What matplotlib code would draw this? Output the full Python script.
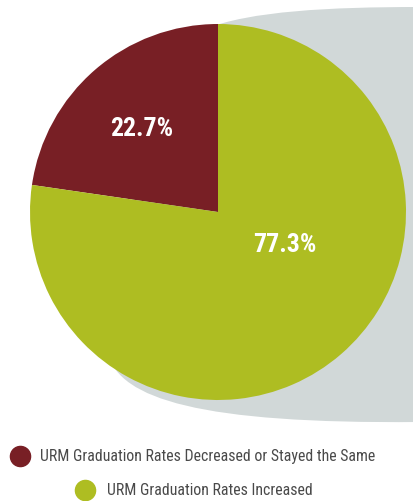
import matplotlib.pyplot as plt
from matplotlib.path import Path
from matplotlib.patches import PathPatch

# data
categories = ['URM Graduation Rates Decreased or Stayed the Same',
              'URM Graduation Rates Increased']
shares = [22.7, 77.3]
colors = ['#781F25', '#AEBD22']
shadow_color = '#D1D8D8'
text_color = '#4A4A4A'

W, H = 414, 502
fig = plt.figure(figsize=(W / 100, H / 100), dpi=100)
ax = fig.add_axes([0, 0, 1, 1])


def py(y):
    # pixel row (from top) -> data y
    return H - y


# grey backdrop shape behind the pie
verts = [(W + 5, py(8)),
         (330, py(8)), (250, py(12)), (205, py(30)),
         (150, py(120)), (100, py(280)), (108, py(355)),
         (120, py(400)), (200, py(425)), (W + 5, py(423)),
         (W + 5, py(8))]
codes = [Path.MOVETO,
         Path.CURVE4, Path.CURVE4, Path.CURVE4,
         Path.CURVE4, Path.CURVE4, Path.CURVE4,
         Path.CURVE4, Path.CURVE4, Path.CURVE4,
         Path.CLOSEPOLY]
ax.add_patch(PathPatch(Path(verts, codes), facecolor=shadow_color,
                       edgecolor='none', zorder=0))

cx, cy, r = 218, py(213), 188
wedges, _ = ax.pie(shares, colors=colors, startangle=90, counterclock=True,
                   center=(cx, cy), radius=r, frame=True,
                   wedgeprops=dict(linewidth=0))
ax.set_xlim(0, W)
ax.set_ylim(0, H)
ax.set_aspect('equal')
ax.axis('off')

label_font = ['Roboto Condensed', 'Barlow Condensed', 'DejaVu Sans']
legend_font = ['Roboto Condensed', 'Barlow Semi Condensed', 'DejaVu Sans']
label_pos = [(142, 129), (285, 245)]
for val, (x, y) in zip(shares, label_pos):
    ax.text(x, py(y), f'{val:.1f}%', color='white', fontsize=18.5,
            fontweight='bold', family=label_font, ha='center', va='center')

# legend rows, each centred
legend_rows = [(457, 20, 40), (491, 85, 107)]
for (y, mx, tx), cat, col in zip(legend_rows, categories, colors):
    ax.plot(mx, py(y), 'o', markersize=14.5, color=col, clip_on=False)
    ax.text(tx, py(y), cat, color=text_color, fontsize=11.4,
            family=legend_font, ha='left', va='center')

fig.savefig('out.png', dpi=100)
